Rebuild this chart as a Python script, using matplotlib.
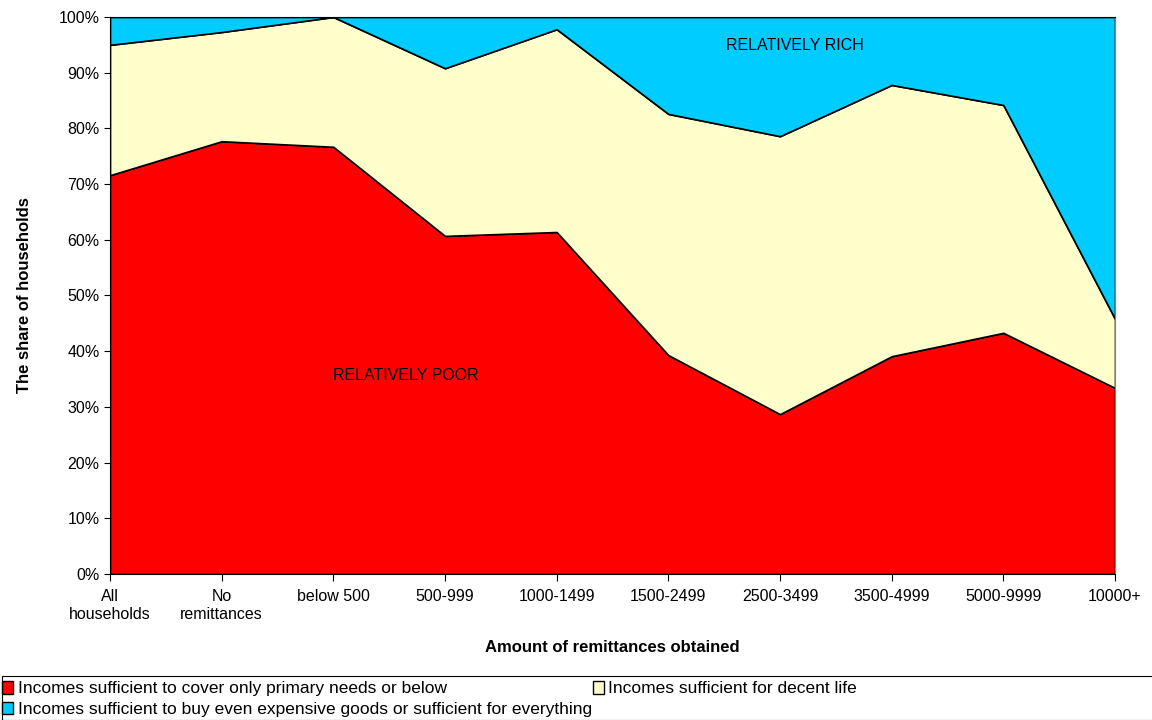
import matplotlib
matplotlib.use("Agg")
import matplotlib.pyplot as plt
import numpy as np
from matplotlib.patches import Patch, Rectangle
from matplotlib.ticker import PercentFormatter

categories = ["All\nhouseholds", "No\nremittances", "below 500", "500-999", "1000-1499",
              "1500-2499", "2500-3499", "3500-4999", "5000-9999", "10000+"]
poor = [71.6, 77.7, 76.7, 60.7, 61.4, 39.3, 28.7, 39.1, 43.3, 33.4]
decent = [23.4, 19.6, 23.3, 30.1, 36.4, 43.3, 49.9, 48.7, 40.9, 12.4]
rich = [5.0, 2.7, 0.0, 9.2, 2.2, 17.4, 21.4, 12.2, 15.8, 54.2]

labels = ["Incomes sufficient to cover only primary needs or below",
          "Incomes sufficient for decent life",
          "Incomes sufficient to buy even expensive goods or sufficient for everything"]
colors = ["#FF0000", "#FFFFCC", "#00CCFF"]

plt.rcParams['font.family'] = ['Liberation Sans', 'DejaVu Sans']

fig = plt.figure(figsize=(11.52, 7.2), dpi=100)
ax = fig.add_axes([110/1152, 146/720, (1115-110)/1152, (574-17)/720])

x = np.arange(len(categories))
ax.stackplot(x, poor, decent, rich, colors=colors, edgecolor="black", linewidth=1.2)

ax.set_xlim(0, len(categories) - 1)
ax.set_ylim(0, 100)
ax.set_yticks(np.arange(0, 101, 10))
ax.yaxis.set_major_formatter(PercentFormatter(decimals=0))
ax.set_xticks(x)
ax.set_xticklabels(categories, fontsize=11.5, linespacing=1.25)
ax.tick_params(axis='y', labelsize=11.5, direction='out', length=4)
ax.tick_params(axis='x', direction='out', length=5, pad=6)
for s in ['left', 'bottom', 'top']:
    ax.spines[s].set_color('black')
ax.spines['right'].set_color('#808080')

ax.set_xlabel("Amount of remittances obtained", fontsize=12, fontweight='bold', labelpad=13)
ax.set_ylabel("The share of households", fontsize=12, fontweight='bold', labelpad=19)

ax.text(2.65, 35.7, "RELATIVELY POOR", fontsize=11.5, ha='center', va='center')
ax.text(6.13, 94.9, "RELATIVELY RICH", fontsize=11.5, ha='center', va='center')

handles = [Patch(facecolor=colors[0], edgecolor='black', label=labels[0]),
           Patch(facecolor=colors[2], edgecolor='black', label=labels[2]),
           Patch(facecolor=colors[1], edgecolor='black', label=labels[1])]
leg = fig.legend(handles=handles, ncol=2, loc='upper left',
                 bbox_to_anchor=(2/1152, 1 - 681/720), fontsize=12.5,
                 frameon=False,
                 handlelength=0.65, handleheight=0.75, handletextpad=0.25,
                 columnspacing=0.05, borderpad=0.0, labelspacing=0.3,
                 borderaxespad=0)
fig.add_artist(Rectangle((2/1152, 0.5/720), 1.2, (720-676)/720 - 0.5/720,
                         transform=fig.transFigure, facecolor='none',
                         edgecolor='black', linewidth=0.8, clip_on=False))

fig.savefig("out.png", dpi=100)
